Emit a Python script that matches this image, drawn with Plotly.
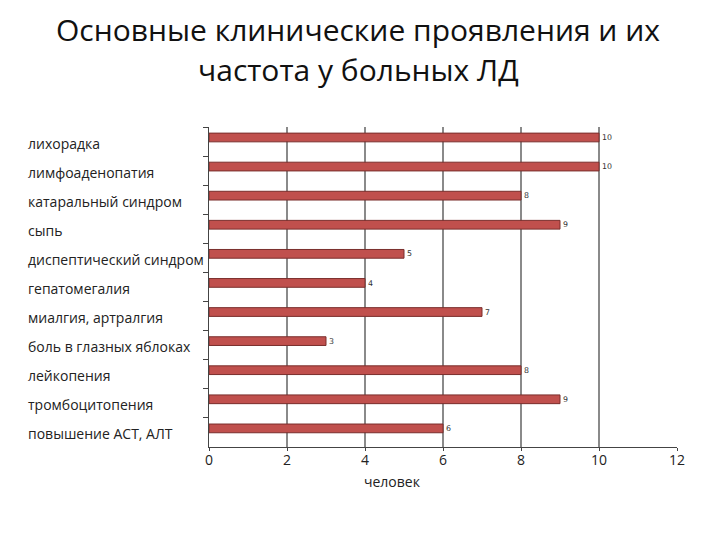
import plotly.graph_objects as go

categories = ["лихорадка", "лимфоаденопатия", "катаральный синдром", "сыпь",
              "диспептический синдром", "гепатомегалия", "миалгия, артралгия",
              "боль в глазных яблоках", "лейкопения", "тромбоцитопения",
              "повышение АСТ, АЛТ"]
values = [10, 10, 8, 9, 5, 4, 7, 3, 8, 9, 6]
x_ticks = [0, 2, 4, 6, 8, 10, 12]
title_lines = ["Основные клинические проявления и их", "частота у больных ЛД"]

fig = go.Figure()
fig.add_trace(go.Bar(
    y=categories, x=values, orientation="h",
    width=0.3, offset=-0.29,
    marker=dict(color="#C0504D", line=dict(color="#7A2E2C", width=1)),
    text=[str(v) for v in values], textposition="outside",
    textfont=dict(size=9, color="#333", family="DejaVu Sans"),
    cliponaxis=False,
))

annotations = []
for c in categories:
    annotations.append(dict(x=-183/468, xref="paper", y=c, yref="y", text=c,
                            showarrow=False, xanchor="left", yanchor="middle",
                            yshift=-1.5,
                            font=dict(size=14, family="Open Sans", color="#222")))
annotations.append(dict(x=(392 - 209) / 39.0, xref="x", y=0, yref="paper", text="человек",
                        showarrow=False, yshift=-23, yanchor="top",
                        font=dict(size=14, family="Open Sans", color="#222")))
for i, t in enumerate(title_lines):
    annotations.append(dict(x=(358 - 209) / 468, xref="paper",
                            y=(447 - (30 + 40 * i)) / 320, yref="paper",
                            text=t, showarrow=False, xanchor="center", yanchor="middle",
                            font=dict(size=30, family="Open Sans", color="#111")))

fig.update_layout(
    width=720, height=540,
    margin=dict(l=209, r=43, t=127, b=93),
    paper_bgcolor="white", plot_bgcolor="white",
    showlegend=False,
    annotations=annotations,
)
fig.update_xaxes(range=[0, 12], tickvals=x_ticks, showgrid=True,
                 gridcolor="#8a8a8a", gridwidth=1.5, showline=True, linecolor="#444",
                 ticks="outside", ticklen=3, tickcolor="#444",
                 ticklabelstandoff=-3,
                 tickfont=dict(size=14, family="Open Sans", color="#222"),
                 zeroline=False)
fig.update_yaxes(autorange="reversed", showticklabels=False, showline=True,
                 linecolor="#444", ticks="outside", ticklen=5, tickcolor="#444",
                 tickson="boundaries", showgrid=False)

fig.write_html("out.html")
